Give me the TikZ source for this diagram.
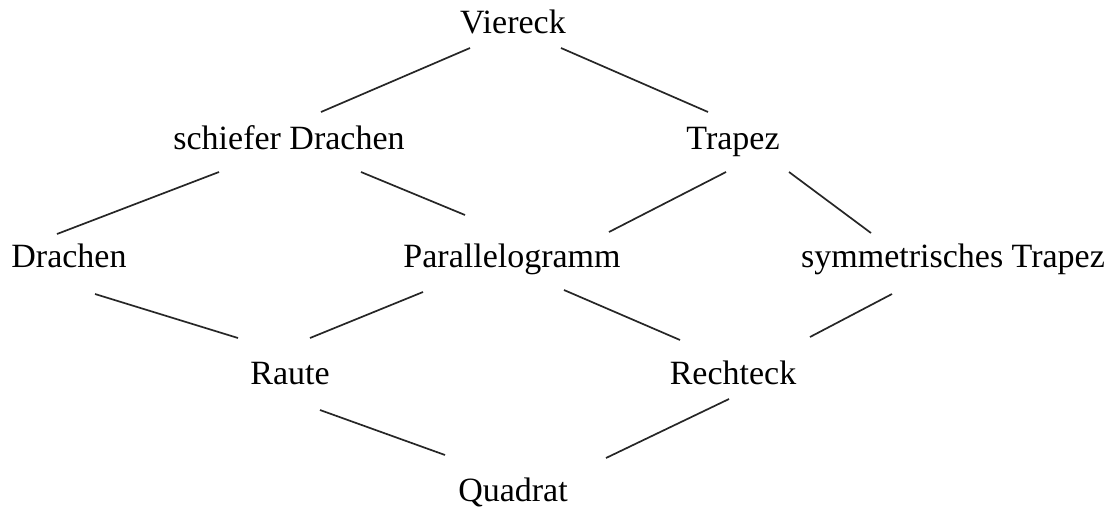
\documentclass[tikz,border=0pt]{standalone}
\usepackage{fontspec}
\setmainfont{Liberation Serif}
\usetikzlibrary{calc}
\begin{document}
\begin{tikzpicture}[x=1pt,y=-1pt,
  lbl/.style={font=\fontsize{34}{40}\selectfont, inner sep=0pt, anchor=base},
  edge/.style={line width=1.7pt, black!85}]
\useasboundingbox (0,0) rectangle (1111,509);
\node[lbl] (v)  at (513,33)  {Viereck};
\node[lbl] (sd) at (289,149) {schiefer Drachen};
\node[lbl] (t)  at (733,149) {Trapez};
\node[lbl] (d)  at (69,267)  {Drachen};
\node[lbl] (p)  at (512,267) {Parallelogramm};
\node[lbl] (st) at (953,267) {symmetrisches Trapez};
\node[lbl] (ra) at (290,384) {Raute};
\node[lbl] (re) at (733,384) {Rechteck};
\node[lbl] (q)  at (513,501) {Quadrat};
\draw[edge] ($(v.base)+(-43,15)$) -- ($(sd.base)+(32,-37)$);
\draw[edge] ($(v.base)+(48,15)$) -- ($(t.base)+(-25,-37)$);
\draw[edge] ($(sd.base)+(-70,23)$) -- ($(d.base)+(-12,-33)$);
\draw[edge] ($(sd.base)+(72,23)$) -- ($(p.base)+(-47,-52)$);
\draw[edge] ($(t.base)+(-7,23)$) -- ($(p.base)+(97,-35)$);
\draw[edge] ($(t.base)+(56,23)$) -- ($(st.base)+(-82,-34)$);
\draw[edge] ($(d.base)+(26,27)$) -- ($(ra.base)+(-52,-46)$);
\draw[edge] ($(p.base)+(-89,25)$) -- ($(ra.base)+(20,-46)$);
\draw[edge] ($(p.base)+(52,23)$) -- ($(re.base)+(-53,-44)$);
\draw[edge] ($(st.base)+(-61,27)$) -- ($(re.base)+(77,-47)$);
\draw[edge] ($(ra.base)+(30,26)$) -- ($(q.base)+(-68,-46)$);
\draw[edge] ($(re.base)+(-4,15)$) -- ($(q.base)+(93,-43)$);
\end{tikzpicture}
\end{document}
